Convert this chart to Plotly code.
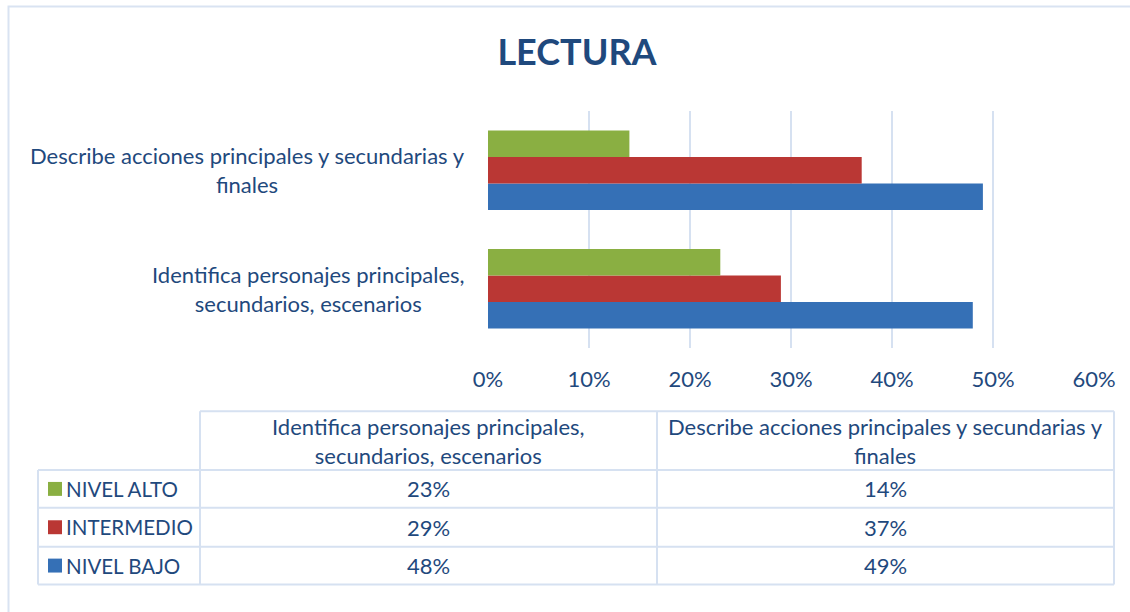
import plotly.graph_objects as go

# ---------------- data ----------------
categories = ["Identifica personajes principales,<br>secundarios, escenarios",
              "Describe acciones principales y secundarias y<br>finales"]
series_names = ["NIVEL BAJO", "INTERMEDIO", "NIVEL ALTO"]
nivel_bajo = [48, 49]
intermedio = [29, 37]
nivel_alto = [23, 14]
x_ticks = [0, 10, 20, 30, 40, 50, 60]
title_text = "LECTURA"

colors = {"NIVEL BAJO": "#3570B6", "INTERMEDIO": "#BA3734", "NIVEL ALTO": "#8AAF42"}
values = {"NIVEL BAJO": nivel_bajo, "INTERMEDIO": intermedio, "NIVEL ALTO": nivel_alto}

TXT = "#1F497D"
GRID = "#D6E1F1"
FONT = "Lato"
FS = 22

W, H = 1130, 612
L, R, T, B = 488, 36, 110.5, 263.5
PW, PH = W - L - R, H - T - B


def px(x):
    return (x - L) / PW


def py(y):
    return 1 - (y - T) / PH


fig = go.Figure()
for name in series_names:
    fig.add_trace(go.Bar(
        y=categories, x=values[name], name=name, orientation="h",
        marker=dict(color=colors[name], line=dict(width=0)),
        showlegend=False, hoverinfo="x+name"))

shapes = []
annotations = []

# outer chart border
shapes.append(dict(type="rect", xref="paper", yref="paper",
                   x0=px(8.5), x1=px(1140), y0=py(5.5), y1=py(620),
                   line=dict(color="#D9E3F2", width=2), fillcolor="rgba(0,0,0,0)",
                   layer="below"))

# category labels (centered multi-line)
for c in categories:
    annotations.append(dict(xref="paper", yref="y", x=px(467), y=c, text=c,
                            xanchor="right", yanchor="middle", align="center",
                            showarrow=False, font=dict(family=FONT, size=FS, color=TXT)))

# ---------------- data table ----------------
col_x = [38, 200, 657, 1114]
row_y = [412, 471, 509, 548, 586]
tl = dict(color=GRID, width=2)
# horizontal lines
shapes.append(dict(type="line", xref="paper", yref="paper", x0=px(col_x[1]), x1=px(col_x[3]),
                   y0=py(row_y[0]), y1=py(row_y[0]), line=tl))
for yy in row_y[1:]:
    shapes.append(dict(type="line", xref="paper", yref="paper", x0=px(col_x[0]), x1=px(col_x[3]),
                       y0=py(yy), y1=py(yy), line=tl))
# vertical lines
shapes.append(dict(type="line", xref="paper", yref="paper", x0=px(col_x[0]), x1=px(col_x[0]),
                   y0=py(row_y[1]), y1=py(row_y[4]), line=tl))
for xx in col_x[1:]:
    shapes.append(dict(type="line", xref="paper", yref="paper", x0=px(xx), x1=px(xx),
                       y0=py(row_y[0]), y1=py(row_y[4]), line=tl))

# header texts
for j, c in enumerate(categories):
    cx = (col_x[j + 1] + col_x[j + 2]) / 2
    annotations.append(dict(xref="paper", yref="paper", x=px(cx), y=py((row_y[0] + row_y[1]) / 2),
                            text=c, showarrow=False, align="center", xanchor="center", yanchor="middle",
                            font=dict(family=FONT, size=FS, color=TXT)))

# rows: top row = NIVEL ALTO
table_order = ["NIVEL ALTO", "INTERMEDIO", "NIVEL BAJO"]
for i, name in enumerate(table_order):
    cy = (row_y[i + 1] + row_y[i + 2]) / 2
    shapes.append(dict(type="rect", xref="paper", yref="paper",
                       x0=px(48), x1=px(62), y0=py(cy - 7), y1=py(cy + 7),
                       fillcolor=colors[name], line=dict(width=0)))
    annotations.append(dict(xref="paper", yref="paper", x=px(64), y=py(cy), text=name,
                            showarrow=False, xanchor="left", yanchor="middle",
                            font=dict(family=FONT, size=20.5, color=TXT)))
    for j in range(len(categories)):
        cx = (col_x[j + 1] + col_x[j + 2]) / 2
        annotations.append(dict(xref="paper", yref="paper", x=px(cx), y=py(cy),
                                text=f"{values[name][j]}%", showarrow=False,
                                xanchor="center", yanchor="middle",
                                font=dict(family=FONT, size=FS, color=TXT)))

fig.update_layout(
    width=W, height=H,
    margin=dict(l=L, r=R, t=T, b=B),
    paper_bgcolor="white", plot_bgcolor="white",
    barmode="group", bargap=0.33, bargroupgap=0,
    title=dict(text=f"<b>{title_text}</b>", x=577 / W, xanchor="center",
               y=1 - 52 / H, yanchor="middle",
               font=dict(family=FONT, size=36, color=TXT)),
    xaxis=dict(range=[0, 60], tickvals=x_ticks, ticktext=[f"{t}%" for t in x_ticks],
               showgrid=True, gridcolor=GRID, gridwidth=2, zeroline=False,
               showline=False, ticks="", ticklabelstandoff=16,
               tickfont=dict(family=FONT, size=FS, color=TXT), fixedrange=True),
    yaxis=dict(categoryorder="array", categoryarray=categories, showticklabels=False,
               showgrid=False, zeroline=False, showline=False, fixedrange=True),
    shapes=shapes, annotations=annotations,
    font=dict(family=FONT, color=TXT),
)

fig.write_html("out.html")
